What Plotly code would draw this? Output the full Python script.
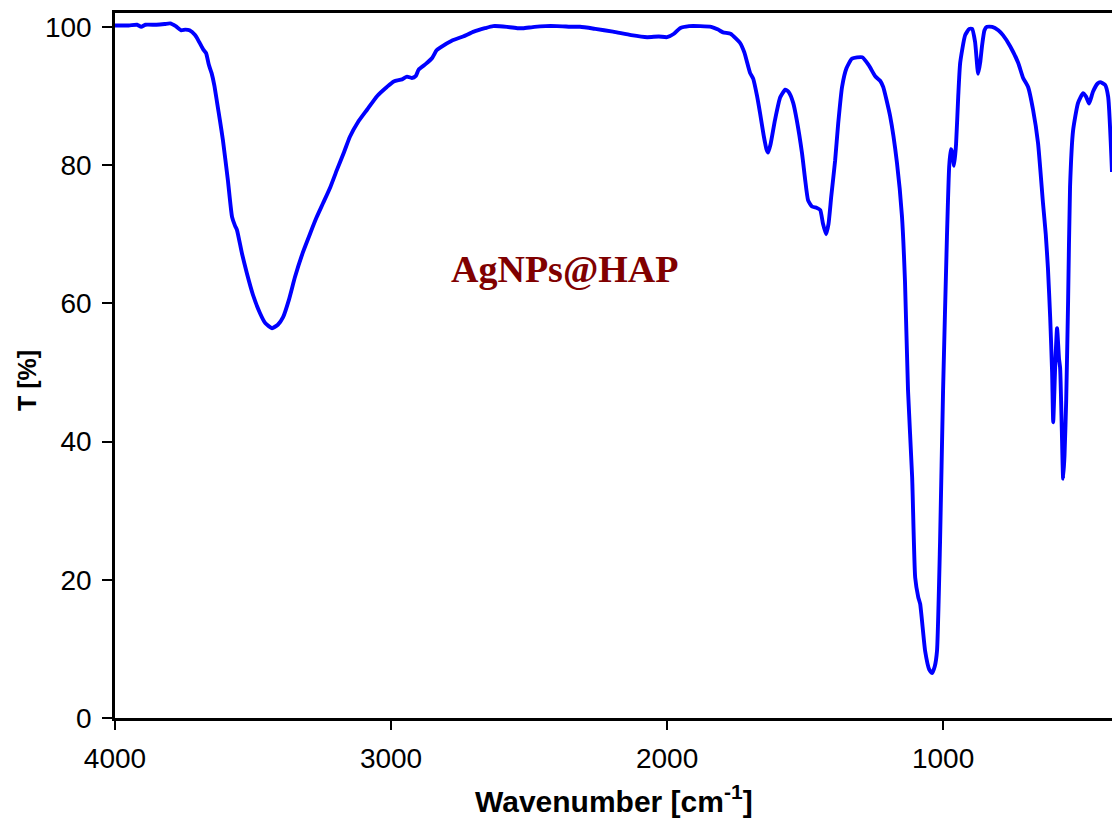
import plotly.graph_objects as go

wavenumber = [4000, 3950, 3920, 3905, 3890, 3850, 3820, 3800, 3780, 3760, 3745, 3730, 3710, 3695, 3680,
              3670, 3660, 3650, 3640, 3630, 3620, 3609, 3591, 3576, 3565, 3558, 3540, 3522, 3500, 3475,
              3455, 3431, 3410, 3391, 3370, 3348, 3320, 3293, 3270, 3246, 3220, 3196, 3170, 3149, 3120,
              3087, 3050, 3015, 2990, 2960, 2942, 2925, 2910, 2900, 2875, 2851, 2835, 2822, 2780, 2739,
              2700, 2660, 2630, 2580, 2540, 2522, 2480, 2440, 2399, 2340, 2315, 2260, 2196, 2130, 2072,
              2030, 2000, 1975, 1953, 1920, 1880, 1840, 1815, 1797, 1770, 1750, 1736, 1720, 1699, 1688,
              1674, 1663, 1650, 1640, 1634, 1625, 1609, 1590, 1572, 1560, 1543, 1530, 1511, 1500, 1489,
              1475, 1457, 1445, 1435, 1424, 1415, 1405, 1391, 1380, 1366, 1350, 1330, 1293, 1270, 1245,
              1228, 1217, 1192, 1167, 1149, 1138, 1127, 1112, 1101, 1090, 1083, 1065, 1050, 1040, 1030,
              1022, 1011, 1000, 986, 978, 972, 968, 960, 953, 945, 938, 920, 905, 895, 884,
              873, 865, 859, 850, 841, 822, 800, 783, 757, 728, 710, 692, 674, 656, 638,
              628, 620, 612, 605, 601, 597, 594, 587, 580, 576, 570, 565, 560, 554, 547, 540,
              529, 511, 493, 482, 471, 457, 440, 431, 413, 402, 388]

transmittance = [100.2, 100.2, 100.3, 100.0, 100.3, 100.3, 100.4, 100.5, 100.1, 99.5, 99.6, 99.5, 98.8, 97.8, 96.7,
                 96.2, 94.5, 93.3, 91.5, 89.0, 86.5, 83.6, 77.8, 72.5, 71.2, 70.6, 67.2, 64.3, 61.2, 58.6,
                 57.1, 56.4, 56.9, 58.0, 60.5, 63.8, 67.3, 70.1, 72.4, 74.5, 76.8, 79.3, 81.9, 84.1, 86.2,
                 88.0, 90.0, 91.3, 92.1, 92.4, 92.8, 92.6, 92.9, 93.8, 94.6, 95.5, 96.6, 97.0, 98.0, 98.6,
                 99.3, 99.8, 100.1, 100.0, 99.8, 99.8, 100.0, 100.1, 100.1, 100.0, 100.0, 99.7, 99.3, 98.8, 98.5,
                 98.6, 98.5, 99.0, 99.8, 100.1, 100.1, 100.0, 99.6, 99.2, 99.0, 98.3, 97.7, 96.3, 93.3, 92.5,
                 90.0, 87.5, 84.3, 82.3, 81.8, 83.0, 86.5, 89.8, 90.9, 90.6, 89.0, 86.5, 81.7, 78.0, 74.9,
                 74.0, 73.8, 73.5, 71.5, 70.0, 71.5, 75.5, 80.7, 86.0, 91.3, 94.0, 95.4, 95.6, 94.5, 92.8,
                 92.2, 91.3, 87.1, 80.3, 72.6, 63.2, 47.4, 34.8, 20.3, 17.5, 16.5, 9.7, 7.0, 6.5, 7.5,
                 9.7, 25.4, 47.4, 69.6, 79.7, 82.3, 82.0, 79.9, 83.0, 90.0, 94.8, 98.8, 99.7, 99.7, 97.8,
                 93.2, 95.0, 97.2, 99.5, 100.0, 100.0, 99.5, 98.8, 97.2, 94.8, 92.6, 91.3, 88.0, 83.2, 74.5,
                 70.0, 65.0, 58.0, 50.0, 42.8, 47.0, 50.7, 56.4, 52.0, 50.7, 42.0, 34.6, 38.0, 45.9, 60.4, 76.8,
                 85.0, 89.0, 90.4, 89.9, 88.9, 90.6, 91.8, 92.0, 91.6, 89.9, 79.0]

x_ticks = [4000, 3000, 2000, 1000]
y_ticks = [0, 20, 40, 60, 80, 100]
label_text = "AgNPs@HAP"
x_title = "Wavenumber [cm<sup>-1</sup>]"
y_title = "T [%]"

fig = go.Figure()
fig.add_trace(go.Scatter(
    x=wavenumber, y=transmittance, mode="lines",
    line=dict(color="#0000FF", width=3.9, shape="spline", smoothing=0.5),
    showlegend=False, hoverinfo="x+y",
))

fig.add_annotation(
    x=2373, y=65, xref="x", yref="y", text="<b>" + label_text + "</b>", showarrow=False,
    font=dict(family="Liberation Serif, Times New Roman, serif", size=38, color="#800000"),
    xanchor="center", yanchor="middle",
)

title_family = "Liberation Sans, Arial, sans-serif"

fig.add_annotation(
    x=0.5, y=0, xref="paper", yref="paper", yshift=-81, text="<b>" + x_title + "</b>",
    showarrow=False, xanchor="center", yanchor="middle",
    font=dict(family=title_family, size=30, color="black"),
)

fig.add_annotation(
    x=0, y=0.478, xref="paper", yref="paper", xshift=-88, text="<b>" + y_title + "</b>",
    showarrow=False, xanchor="center", yanchor="middle", textangle=-90,
    font=dict(family=title_family, size=25, color="black"),
)

axis_font = dict(family="Liberation Sans, Arial, sans-serif", size=28, color="black")

fig.update_layout(
    width=1112, height=820,
    margin=dict(l=115, r=0, t=13, b=102, autoexpand=False),
    paper_bgcolor="white", plot_bgcolor="white",
    xaxis=dict(
        range=[4000, 388], tickvals=x_ticks, ticktext=[str(v) for v in x_ticks],
        showline=True, linecolor="black", linewidth=2.5, mirror=True,
        ticks="outside", ticklen=9, tickwidth=2, tickcolor="black",
        showgrid=False, zeroline=False, tickfont=axis_font, ticklabelstandoff=5,
        automargin=False,
    ),
    yaxis=dict(
        range=[0, 102], tickvals=y_ticks, ticktext=[str(v) for v in y_ticks],
        showline=True, linecolor="black", linewidth=2.5, mirror=False,
        ticks="outside", ticklen=10, tickwidth=2, tickcolor="black",
        showgrid=False, zeroline=False, tickfont=axis_font, ticklabelstandoff=5,
        automargin=False,
    ),
)

fig.write_html("out.html", config={"displayModeBar": False},
               post_script="document.body.style.margin='0';")
